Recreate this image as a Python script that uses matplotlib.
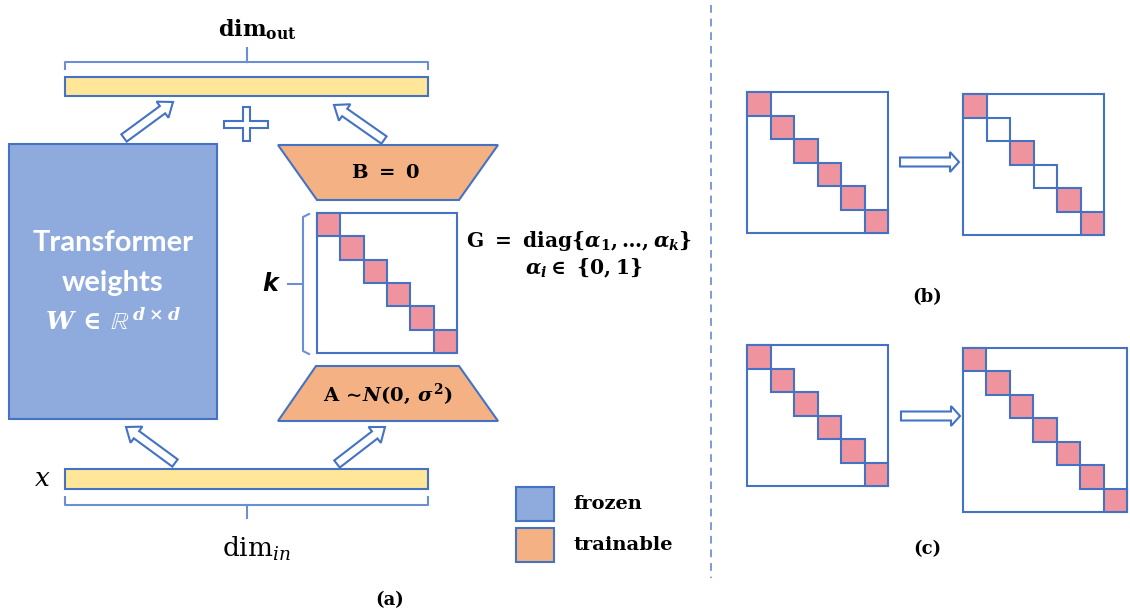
import numpy as np
import matplotlib
matplotlib.use("Agg")
import matplotlib.pyplot as plt
from matplotlib.patches import Rectangle, Polygon, FancyArrow

plt.rcParams['mathtext.fontset'] = 'custom'
plt.rcParams['mathtext.rm'] = 'DejaVu Serif:bold'
plt.rcParams['mathtext.it'] = 'DejaVu Serif:italic:bold'
plt.rcParams['mathtext.bf'] = 'DejaVu Serif:bold'
plt.rcParams['mathtext.cal'] = 'DejaVu Serif:italic:bold'
plt.rcParams['mathtext.sf'] = 'DejaVu Sans:bold'

# gate values on the diagonal of G
gate_full = [1, 1, 1, 1, 1, 1]
gate_pruned = [1, 0, 1, 0, 1, 1]
gate_grown = [1, 1, 1, 1, 1, 1, 1]
legend_labels = ["frozen", "trainable"]
panel_labels = ["(a)", "(b)", "(c)"]

edge = "#4472C4"
frozen_c = "#8FAADC"
train_c = "#F4B183"
bar_c = "#FFE699"
pink = "#EF949E"
brace_c = "#6A8FD3"

fig = plt.figure(figsize=(11.3, 6.14), dpi=100)
ax = fig.add_axes([0, 0, 1, 1])
ax.set_xlim(0, 1130)
ax.set_ylim(614, 0)
ax.axis("off")


def draw_matrix(x0, y0, cell, gates):
    n = len(gates)
    ax.add_patch(Rectangle((x0, y0), cell * n, cell * n, fc="white", ec=edge, lw=1.5))
    for i, g in enumerate(gates):
        ax.add_patch(Rectangle((x0 + i * cell, y0 + i * cell), cell, cell,
                               fc=pink if g else "white", ec=edge, lw=1.5))


def hollow_arrow(x0, y0, x1, y1, w=9, hw=20, hl=13):
    ax.add_patch(FancyArrow(x0, y0, x1 - x0, y1 - y0, width=w, head_width=hw,
                            head_length=hl, length_includes_head=True,
                            fc="white", ec=edge, lw=1.5))


def bracket(x0, x1, y_hook, y_line, y_tick):
    xm = (x0 + x1) / 2
    ax.plot([x0, x0, x1, x1], [y_hook, y_line, y_line, y_hook], color=brace_c, lw=1.5)
    ax.plot([xm, xm], [y_line, y_tick], color=brace_c, lw=1.5)


#%% panel (a)
ax.text(257, 30, r'$\mathrm{dim}_{\mathrm{out}}$', fontsize=16, ha="center", va="center")
bracket(65, 428, 69, 62, 48)
ax.add_patch(Rectangle((65, 77), 363, 19, fc=bar_c, ec=edge, lw=1.5))

hollow_arrow(124, 138, 173, 102)
hollow_arrow(384, 140, 334, 105)

# plus sign
cx, cy, a, b, t = 246, 124, 22, 17, 3.5
plus = [(cx - t, cy - b), (cx + t, cy - b), (cx + t, cy - t), (cx + a, cy - t),
        (cx + a, cy + t), (cx + t, cy + t), (cx + t, cy + b), (cx - t, cy + b),
        (cx - t, cy + t), (cx - a, cy + t), (cx - a, cy - t), (cx - t, cy - t)]
ax.add_patch(Polygon(plus, closed=True, fc="white", ec=edge, lw=1.5))

# frozen weights
ax.add_patch(Rectangle((9, 144), 208, 275, fc=frozen_c, ec=edge, lw=1.5))
ax.text(113, 243, "Transformer", color="white", fontsize=21, fontweight="bold",
        family="Lato", ha="center", va="center")
ax.text(113, 283, "weights", color="white", fontsize=21, fontweight="bold",
        family="Lato", ha="center", va="center")
ax.text(113, 322, r'$W\,\in\,ℝ^{\,d\times d}$', color="white", fontsize=18,
        ha="center", va="center")

# B
ax.add_patch(Polygon([(278, 145), (498, 145), (459, 200), (317, 200)], closed=True,
                     fc=train_c, ec=edge, lw=1.5))
ax.text(386, 172, r'$\mathrm{B}\ =\ \mathrm{0}$', fontsize=14, ha="center", va="center")

# G
draw_matrix(317, 213, 140 / 6, gate_full)
ax.plot([309, 303, 303, 309], [214, 217, 351, 354], color=brace_c, lw=1.5)
ax.plot([303, 288], [284, 284], color=brace_c, lw=1.5)
ax.text(270, 284, "k", fontsize=17, fontweight="bold", style="italic",
        family="DejaVu Sans", ha="center", va="center")
ax.text(466, 241, r'$\mathrm{G}\ =\ \mathrm{diag}\{\alpha_1,\ldots,\alpha_k\}$',
        fontsize=14.5, ha="left", va="center")
ax.text(525, 268, r'$\alpha_i\in\ \{0,1\}$', fontsize=14.5, ha="left", va="center")

# A
ax.add_patch(Polygon([(316, 366), (459, 366), (498, 421), (278, 421)], closed=True,
                     fc=train_c, ec=edge, lw=1.5))
ax.text(388, 394, r'$\mathrm{A}\,\sim\!\mathcal{N}(0,\,\sigma^2)$', fontsize=14,
        ha="center", va="center")

hollow_arrow(175, 463, 126, 427)
hollow_arrow(337, 464, 385, 427)

ax.add_patch(Rectangle((65, 469), 363, 20, fc=bar_c, ec=edge, lw=1.5))
ax.text(42, 479, "x", fontsize=19, style="italic", family="DejaVu Serif",
        ha="center", va="center")
bracket(65, 428, 497, 505, 518)
ax.text(257, 549, r'$\mathrm{dim}_{in}$', fontsize=19, ha="center", va="center",
        math_fontfamily="dejavuserif")

# legend
for i, (lab, c) in enumerate(zip(legend_labels, [frozen_c, train_c])):
    y0 = 487 + i * 41
    ax.add_patch(Rectangle((516, y0), 38, 34, fc=c, ec=edge, lw=1.5))
    ax.text(573, y0 + 17, lab, fontsize=14, fontweight="bold", family="DejaVu Serif",
            ha="left", va="center")

ax.text(390, 600, panel_labels[0], fontsize=13, fontweight="bold",
        family="DejaVu Serif", ha="center", va="center")

# divider
ax.plot([711, 711], [5, 578], color="#7A9BDB", lw=1.4, ls=(0, (4, 3)))

#%% panel (b)
draw_matrix(747, 92, 141 / 6, gate_full)
hollow_arrow(900, 162, 959, 162, w=9, hw=20, hl=9)
draw_matrix(963, 94, 141 / 6, gate_pruned)
ax.text(927, 297, panel_labels[1], fontsize=13, fontweight="bold",
        family="DejaVu Serif", ha="center", va="center")

#%% panel (c)
draw_matrix(747, 345, 141 / 6, gate_full)
hollow_arrow(901, 416, 960, 416, w=9, hw=20, hl=9)
draw_matrix(963, 348, 164 / 7, gate_grown)
ax.text(927, 549, panel_labels[2], fontsize=13, fontweight="bold",
        family="DejaVu Serif", ha="center", va="center")

fig.savefig("out.png", dpi=100)
